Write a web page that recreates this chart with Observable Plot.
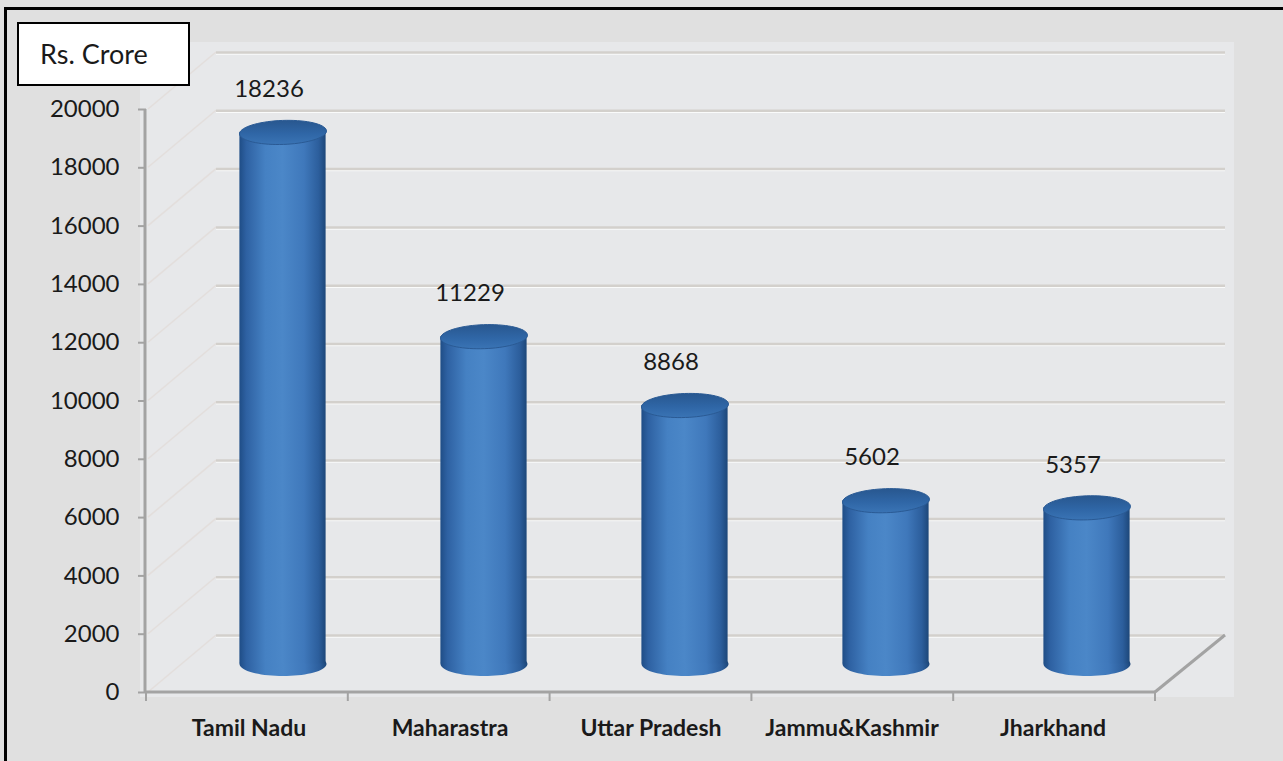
<!DOCTYPE html>
<html>
<head>
<meta charset="utf-8">
<script src="https://cdn.jsdelivr.net/npm/d3@7"></script>
<script src="https://cdn.jsdelivr.net/npm/@observablehq/plot@0.6"></script>
<style>
  html, body { margin: 0; padding: 0; background: #e0e0e0; }
  #wrap { position: relative; width: 1283px; height: 761px; overflow: hidden; background: #e0e0e0; font-family: Lato, "Open Sans", sans-serif; }
  #wrap svg { position: absolute; left: 0; top: 0; }
  #frame { position: absolute; left: 4px; top: 7px; width: 1400px; height: 900px; border-left: 3px solid #000; border-top: 3px solid #000; pointer-events: none; }
  #unit { position: absolute; left: 17px; top: 22px; width: 169px; height: 60px; border: 2px solid #000; background: #fff;
          font: 27px Lato, sans-serif; color: #1a1a1a; line-height: 60px; text-indent: 21px; box-sizing: content-box; }
</style>
</head>
<body>
<div id="wrap"></div>
<script>
// ---- data ----
const states = ["Tamil Nadu", "Maharastra", "Uttar Pradesh", "Jammu&Kashmir", "Jharkhand"];
const values = [18236, 11229, 8868, 5602, 5357];
const yTicks = [0, 2000, 4000, 6000, 8000, 10000, 12000, 14000, 16000, 18000, 20000];
const unitLabel = "Rs. Crore";

const data = states.map((s, i) => ({state: s, value: values[i]}));

// ---- 3D look constants ----
const DEPTH_X = 70, DEPTH_Y = -57;      // back wall offset
const CYL_X = 34, CYL_Y = -28.5;        // cylinders sit mid-depth
const CYL_W = 87;

function ellipse(rx, ry, rotDeg) {
  const rot = rotDeg * Math.PI / 180;
  return {
    draw(ctx) {
      const n = 72;
      for (let i = 0; i <= n; i++) {
        const t = i / n * 2 * Math.PI;
        const px = rx * Math.cos(t), py = ry * Math.sin(t);
        const X = px * Math.cos(rot) - py * Math.sin(rot);
        const Y = px * Math.sin(rot) + py * Math.cos(rot);
        if (i === 0) ctx.moveTo(X, Y); else ctx.lineTo(X, Y);
      }
      ctx.closePath();
    }
  };
}

const defsMark = () => {
  const defs = d3.create("svg:defs");
  const g = defs.append("linearGradient").attr("id", "cylGrad")
    .attr("x1", 0).attr("x2", 1).attr("y1", 0).attr("y2", 0);
  [[0, "#1f4d86"], [0.08, "#2e61a2"], [0.3, "#4581c3"], [0.5, "#4b87c8"], [0.75, "#3f78bb"], [0.92, "#2c5e9c"], [1, "#1d4779"]]
    .forEach(([o, c]) => g.append("stop").attr("offset", o).attr("stop-color", c));
  const t = defs.append("linearGradient").attr("id", "topGrad")
    .attr("x1", 0).attr("x2", 0).attr("y1", 0).attr("y2", 1);
  [[0, "#28578f"], [0.55, "#2f66a6"], [1, "#3a74b5"]]
    .forEach(([o, c]) => t.append("stop").attr("offset", o).attr("stop-color", c));
  return defs.node();
};

const decorMark = (index, scales, values, dims) => {
  const {y} = scales;
  const {width, marginLeft, marginRight, marginTop} = dims;
  const left = marginLeft, right = width - marginRight;
  const y0 = y(0);
  const g = d3.create("svg:g");
  // lighter back panel
  g.append("rect").attr("x", left - 6).attr("y", marginTop - 67)
    .attr("width", right + DEPTH_X + 9 - (left - 6)).attr("height", y0 + 5 - (marginTop - 67))
    .attr("fill", "#e7e8ea");
  // faint side wall diagonals
  for (const t of yTicks) {
    g.append("line").attr("x1", left + 2).attr("y1", y(t)).attr("x2", left + DEPTH_X).attr("y2", y(t) + DEPTH_Y)
      .attr("stroke", "#e2d9d4").attr("stroke-width", 1.5).attr("opacity", 0.6);
  }
  return g.node();
};

const axisLinesMark = (index, scales, values, dims) => {
  const {y} = scales;
  const {width, marginLeft, marginRight} = dims;
  const left = marginLeft, right = width - marginRight;
  const y0 = y(0), yTop = y(20000);
  const n = states.length, step = (right - left) / n;
  const g = d3.create("svg:g").attr("stroke", "#a3a3a3").attr("stroke-width", 3).attr("fill", "none");
  g.append("line").attr("x1", left - 1).attr("y1", yTop).attr("x2", left - 1).attr("y2", y0);
  g.append("line").attr("x1", left - 1).attr("y1", y0).attr("x2", right).attr("y2", y0);
  g.append("line").attr("x1", right).attr("y1", y0).attr("x2", right + DEPTH_X).attr("y2", y0 + DEPTH_Y);
  for (let i = 0; i <= n; i++) {
    const xx = left + i * step;
    g.append("line").attr("x1", xx).attr("y1", y0).attr("x2", xx).attr("y2", y0 + 9).attr("stroke-width", 2);
  }
  return g.node();
};

const plot = Plot.plot({
  width: 1283,
  height: 761,
  marginLeft: 146,
  marginRight: 128,
  marginTop: 109,
  marginBottom: 69,
  style: {background: "transparent", fontFamily: "Lato, sans-serif", color: "#1a1a1a"},
  x: {type: "band", domain: states, padding: 0, label: null},
  y: {domain: [0, 20000], label: null},
  marks: [
    defsMark,
    decorMark,
    // back wall gridlines
    Plot.ruleY(yTicks, {dx: DEPTH_X, dy: DEPTH_Y + 1.5, stroke: "#ffffff", strokeWidth: 1.5, strokeOpacity: 0.8}),
    Plot.ruleY(yTicks, {dx: DEPTH_X, dy: DEPTH_Y, stroke: "#d3d0cc", strokeWidth: 2.5}),
    axisLinesMark,
    // cylinders
    Plot.dot(data, {x: "state", y: 0, symbol: ellipse(CYL_W / 2, 12, 0), fill: "url(#cylGrad)", dx: CYL_X, dy: CYL_Y}),
    Plot.barY(data, {x: "state", y: "value", fill: "url(#cylGrad)", dx: CYL_X, dy: CYL_Y,
      insetLeft: (1009 / 5 - CYL_W) / 2, insetRight: (1009 / 5 - CYL_W) / 2}),
    Plot.dot(data, {x: "state", y: "value", symbol: ellipse(CYL_W / 2, 12, -2), fill: "url(#topGrad)",
      stroke: "#2a5a94", strokeWidth: 1, dx: CYL_X, dy: CYL_Y}),
    // value labels
    Plot.text(data, {x: "state", y: "value", text: d => String(d.value), dx: 20, dy: CYL_Y - 43,
      fontSize: 24, fill: "#1a1a1a", fontFamily: "Lato, sans-serif"}),
    // axes
    Plot.axisY(yTicks, {tickSize: 8, tickPadding: 19, fontSize: 24, stroke: "#a3a3a3", strokeWidth: 2,
      fill: "#1a1a1a", tickFormat: d => String(d), label: null}),
    Plot.axisX({tickSize: 0, tickPadding: 27, fontSize: 23, fontWeight: "bold", fill: "#1a1a1a", label: null})
  ]
});

const wrap = document.getElementById("wrap");
wrap.appendChild(plot);
const frame = document.createElement("div"); frame.id = "frame"; wrap.appendChild(frame);
const unit = document.createElement("div"); unit.id = "unit"; unit.textContent = unitLabel; wrap.appendChild(unit);
</script>
</body>
</html>
